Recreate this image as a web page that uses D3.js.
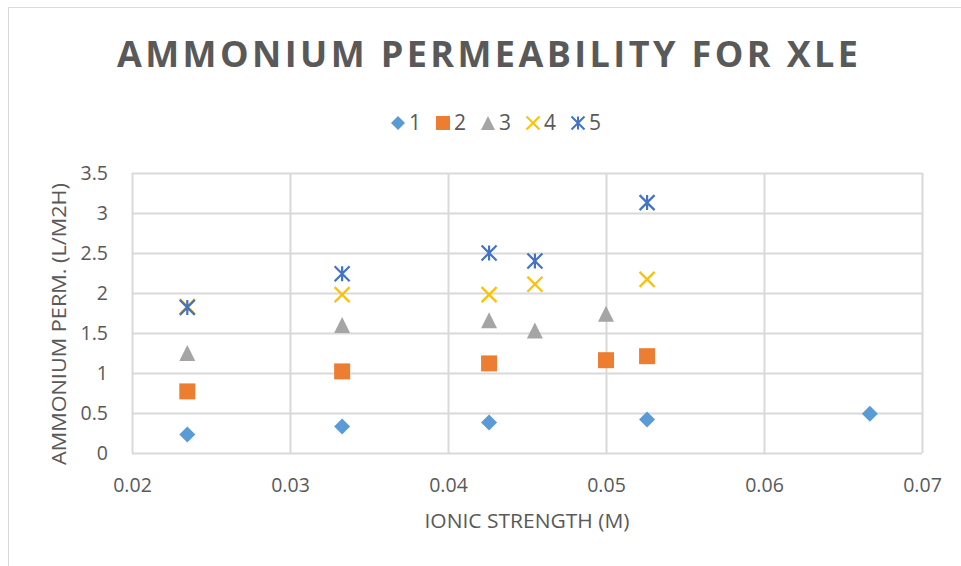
<!DOCTYPE html>
<html>
<head>
<meta charset="utf-8">
<script src="https://cdn.jsdelivr.net/npm/d3@7"></script>
<style>
  html, body { margin: 0; padding: 0; background: #fff; }
  svg { display: block; }
  text { font-family: "Open Sans", "Liberation Sans", sans-serif; fill: #595959; }
</style>
</head>
<body>
<script>
// Ionic strength (M) and ammonium permeability (L/m2h) for each series
const seriesNames = ["1", "2", "3", "4", "5"];
const x1 = [0.0235, 0.0333, 0.0426, 0.0526, 0.0667];
const y1 = [0.23, 0.33, 0.38, 0.42, 0.49];
const x2 = [0.0235, 0.0333, 0.0426, 0.0500, 0.0526];
const y2 = [0.77, 1.02, 1.12, 1.16, 1.21];
const x3 = [0.0235, 0.0333, 0.0426, 0.0455, 0.0500];
const y3 = [1.25, 1.60, 1.66, 1.53, 1.74];
const x4 = [0.0235, 0.0333, 0.0426, 0.0455, 0.0526];
const y4 = [1.83, 1.98, 1.98, 2.11, 2.17];
const x5 = [0.0235, 0.0333, 0.0426, 0.0455, 0.0526];
const y5 = [1.82, 2.24, 2.50, 2.40, 3.13];
const xTicks = [0.02, 0.03, 0.04, 0.05, 0.06, 0.07];
const yTicks = [0, 0.5, 1, 1.5, 2, 2.5, 3, 3.5];

const colors = ["#5B9BD5", "#ED7D31", "#A5A5A5", "#FFC000", "#4472C4"];

// Marker shapes (size = bounding box edge in px)
const diamond = { draw(ctx, s) { const r = s / 2; ctx.moveTo(0, -r); ctx.lineTo(r, 0); ctx.lineTo(0, r); ctx.lineTo(-r, 0); ctx.closePath(); } };
const square = { draw(ctx, s) { const r = s / 2; ctx.rect(-r, -r, s, s); } };
const triangle = { draw(ctx, s) { const r = s / 2; ctx.moveTo(0, -r); ctx.lineTo(r, r); ctx.lineTo(-r, r); ctx.closePath(); } };
const cross = { draw(ctx, s) { const r = s / 2; ctx.moveTo(-r, -r); ctx.lineTo(r, r); ctx.moveTo(r, -r); ctx.lineTo(-r, r); } };
const star = { draw(ctx, s) { const r = s / 2; ctx.moveTo(-r, -r); ctx.lineTo(r, r); ctx.moveTo(r, -r); ctx.lineTo(-r, r); ctx.moveTo(0, -r); ctx.lineTo(0, r); } };

const series = [
  { name: seriesNames[0], xs: x1, ys: y1, shape: diamond, size: 16, filled: true },
  { name: seriesNames[1], xs: x2, ys: y2, shape: square, size: 16, filled: true },
  { name: seriesNames[2], xs: x3, ys: y3, shape: triangle, size: 16, filled: true },
  { name: seriesNames[3], xs: x4, ys: y4, shape: cross, size: 15, filled: false },
  { name: seriesNames[4], xs: x5, ys: y5, shape: star, size: 15, filled: false }
].map((s, i) => ({ ...s, color: colors[i], points: s.xs.map((x, j) => ({ x, y: s.ys[j] })) }));

const W = 961, H = 566;
const margin = { left: 132, top: 173, right: 39, bottom: 113 };
const pw = W - margin.left - margin.right;
const ph = H - margin.top - margin.bottom;

const svg = d3.select("body").append("svg").attr("width", W).attr("height", H);

// Chart frame
svg.append("rect")
  .attr("x", 8.5).attr("y", 7.5).attr("width", W).attr("height", H)
  .attr("fill", "#fff").attr("stroke", "#D9D9D9").attr("stroke-width", 1);

// Title
svg.append("text")
  .attr("x", 487.5).attr("y", 67)
  .attr("text-anchor", "middle")
  .attr("font-size", 36).attr("font-weight", 700)
  .attr("textLength", 741).attr("lengthAdjust", "spacing")
  .text("AMMONIUM PERMEABILITY FOR XLE");

const x = d3.scaleLinear().domain([0.02, 0.07]).range([0, pw]);
const y = d3.scaleLinear().domain([0, 3.5]).range([ph, 0]);

const g = svg.append("g").attr("transform", `translate(${margin.left},${margin.top})`);

// Gridlines + tick labels
const xAxis = g.append("g").attr("transform", `translate(0,${ph})`)
  .call(d3.axisBottom(x).tickValues(xTicks).tickSize(-ph).tickPadding(25).tickFormat(d3.format(".2f")));
const yAxis = g.append("g")
  .call(d3.axisLeft(y).tickValues(yTicks).tickSize(-pw).tickPadding(24).tickFormat(d => d3.format("")(d)));

[xAxis, yAxis].forEach(a => {
  a.select(".domain").remove();
  a.selectAll(".tick line").attr("stroke", "#D9D9D9").attr("stroke-width", 2);
  a.selectAll(".tick text").attr("fill", "#595959").attr("font-size", 19.5)
    .attr("font-family", "'Open Sans', sans-serif");
});
yAxis.selectAll(".tick text").attr("dy", "0.35em");

// Markers
series.forEach(s => {
  const sym = d3.symbol().type(s.shape).size(s.size);
  g.append("g").selectAll("path").data(s.points).join("path")
    .attr("transform", d => `translate(${x(d.x)},${y(d.y)})`)
    .attr("d", sym)
    .attr("fill", s.filled ? s.color : "none")
    .attr("stroke", s.color)
    .attr("stroke-width", s.filled ? 0 : 2.2);
});

// Axis titles
svg.append("text")
  .attr("x", 527).attr("y", 528)
  .attr("text-anchor", "middle").attr("font-size", 20)
  .attr("textLength", 205).attr("lengthAdjust", "spacingAndGlyphs")
  .text("IONIC STRENGTH (M)");
svg.append("text")
  .attr("transform", `translate(66,324) rotate(-90)`)
  .attr("text-anchor", "middle").attr("font-size", 20)
  .attr("textLength", 282).attr("lengthAdjust", "spacingAndGlyphs")
  .text("AMMONIUM PERM. (L/M2H)");

// Legend
const legendItems = series.map((s, i) => ({ ...s, cx: 398 + i * 45 }));
const legend = svg.append("g").attr("transform", "translate(0,123)");
legendItems.forEach(s => {
  legend.append("path")
    .attr("transform", `translate(${s.cx},0)`)
    .attr("d", d3.symbol().type(s.shape).size(s.filled ? 14 : 13)())
    .attr("fill", s.filled ? s.color : "none")
    .attr("stroke", s.color)
    .attr("stroke-width", s.filled ? 0 : 2);
  legend.append("text")
    .attr("x", s.cx + 11).attr("y", 0).attr("dy", "0.35em")
    .attr("font-size", 21)
    .text(s.name);
});
</script>
</body>
</html>
